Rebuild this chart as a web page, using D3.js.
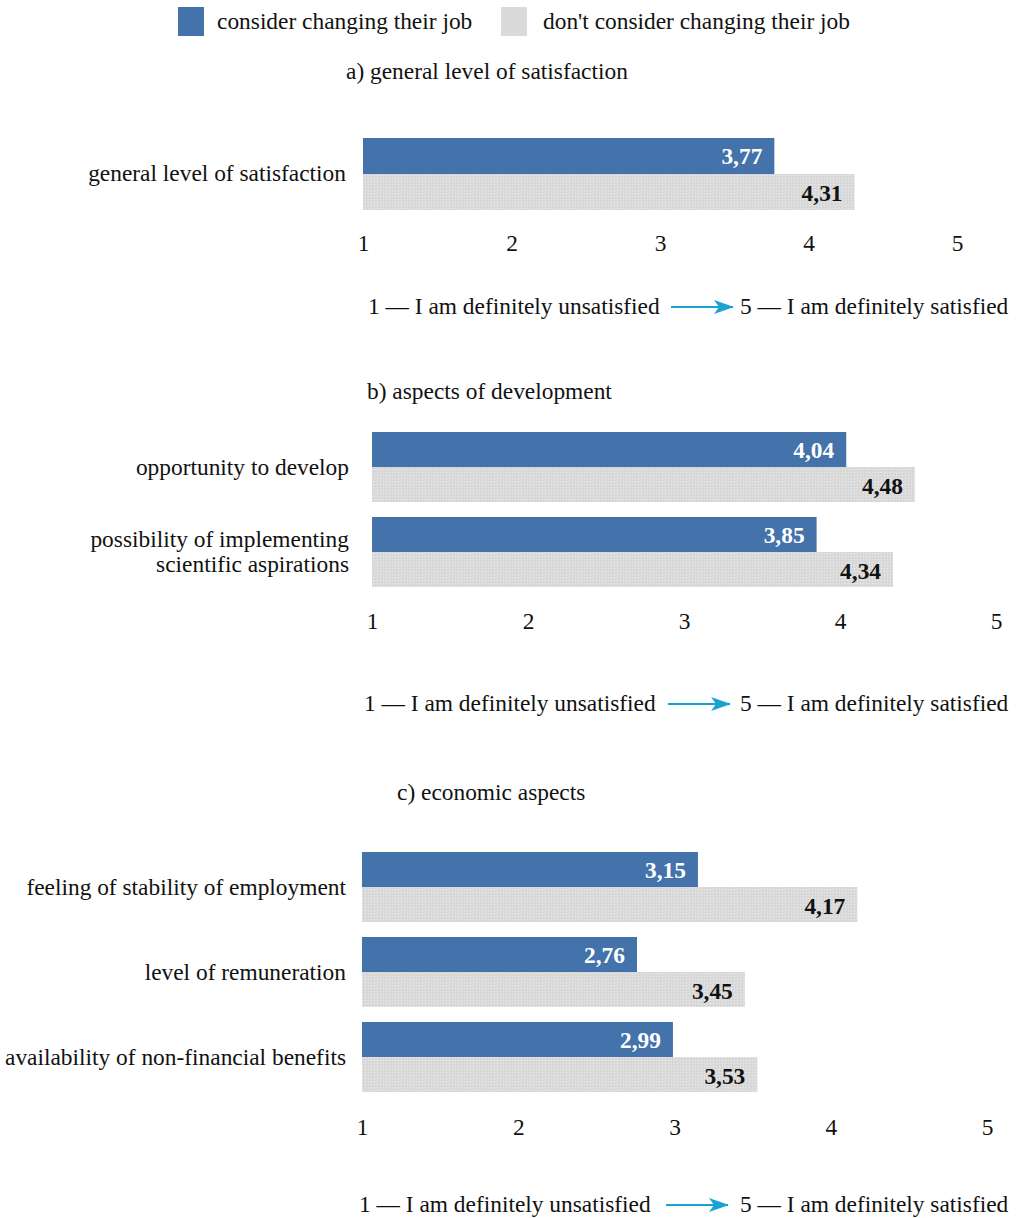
<!DOCTYPE html>
<html lang="en">
<head>
  <meta charset="UTF-8" />
  <title>Job satisfaction</title>
  <style>
    body { margin: 0; background: #fff; }
    svg { display: block; font-family: "Liberation Serif", "DejaVu Serif", serif; }
  </style>
</head>
<body>
  <svg width="1020" height="1218"></svg>

  <script src="https://d3js.org/d3.v7.min.js"></script>

  <script>
    // Legend / series names
    const seriesNames = ['consider changing their job', "don't consider changing their job"];

    // Panel titles
    const titles = ['a) general level of satisfaction', 'b) aspects of development', 'c) economic aspects'];

    // a) general level of satisfaction
    const catsA = ['general level of satisfaction'];
    const changeA = [3.77];
    const stayA = [4.31];

    // b) aspects of development
    const catsB = ['opportunity to develop', 'possibility of implementing\nscientific aspirations'];
    const changeB = [4.04, 3.85];
    const stayB = [4.48, 4.34];

    // c) economic aspects
    const catsC = ['feeling of stability of employment', 'level of remuneration', 'availability of non-financial benefits'];
    const changeC = [3.15, 2.76, 2.99];
    const stayC = [4.17, 3.45, 3.53];

    const ticks = [1, 2, 3, 4, 5];
    const noteLeft = '1 \u2014 I am definitely unsatisfied';
    const noteRight = '5 \u2014 I am definitely satisfied';

    const blue = '#4373aa';
    const grey = '#dadada';
    const arrowColor = '#1aa3d2';
    const fs = 23.4;
    const fmt = v => d3.format('.2f')(v).replace('.', ',');

    const svg = d3.select('svg');
    const defs = svg.append('defs');

    // stippled grey fill like the original print
    const pat = defs.append('pattern')
      .attr('id', 'stipple')
      .attr('patternUnits', 'userSpaceOnUse')
      .attr('width', 3).attr('height', 3);
    pat.append('rect').attr('width', 3).attr('height', 3).attr('fill', '#dcdcdc');
    pat.append('rect').attr('x', 0).attr('y', 0).attr('width', 1).attr('height', 1).attr('fill', '#cfcfcf');
    pat.append('rect').attr('x', 2).attr('y', 1).attr('width', 1).attr('height', 1).attr('fill', '#e6e6e6');
    pat.append('rect').attr('x', 1).attr('y', 2).attr('width', 1).attr('height', 1).attr('fill', '#d3d3d3');

    // notched arrow head
    defs.append('marker')
      .attr('id', 'arrow')
      .attr('viewBox', '0 0 20 14')
      .attr('refX', 19).attr('refY', 7)
      .attr('markerWidth', 20).attr('markerHeight', 14)
      .attr('markerUnits', 'userSpaceOnUse')
      .attr('orient', 'auto')
      .append('path')
      .attr('d', 'M0,0 L20,7 L0,14 L5,7 z')
      .attr('fill', arrowColor);

    // Legend
    const legend = svg.append('g');
    const legendX = [178, 501];
    seriesNames.forEach((name, i) => {
      legend.append('rect')
        .attr('x', legendX[i]).attr('y', 7)
        .attr('width', 26).attr('height', 29)
        .attr('fill', i === 0 ? blue : grey);
      legend.append('text')
        .attr('x', legendX[i] + 39 + i * 3).attr('y', 29)
        .attr('font-size', fs)
        .attr('fill', '#111')
        .text(name);
    });

    function panel(opts) {
      const { cats, change, stay, title, titleX, titleY, x0, x1, top, gap, barH, labelX, tickY, noteY, noteX, arrowX } = opts;
      const g = svg.append('g');
      const x = d3.scaleLinear().domain([1, 5]).range([x0, x1]);

      g.append('text')
        .attr('x', titleX).attr('y', titleY)
        .attr('font-size', fs).attr('fill', '#111')
        .text(title);

      cats.forEach((cat, i) => {
        const y = top + i * gap;
        g.append('rect')
          .attr('x', x(1)).attr('y', y)
          .attr('width', x(change[i]) - x(1)).attr('height', barH + 1)
          .attr('fill', blue);
        g.append('rect')
          .attr('x', x(1)).attr('y', y + barH)
          .attr('width', x(stay[i]) - x(1)).attr('height', barH)
          .attr('fill', 'url(#stipple)');

        g.append('text')
          .attr('x', x(change[i]) - 12).attr('y', y + barH / 2 + 8)
          .attr('text-anchor', 'end')
          .attr('font-size', fs).attr('font-weight', 'bold')
          .attr('fill', '#fff')
          .text(fmt(change[i]));
        g.append('text')
          .attr('x', x(stay[i]) - 12).attr('y', y + barH * 1.5 + 9)
          .attr('text-anchor', 'end')
          .attr('font-size', fs).attr('font-weight', 'bold')
          .attr('fill', '#111')
          .text(fmt(stay[i]));

        const lines = cat.split('\n');
        const t = g.append('text')
          .attr('text-anchor', 'end')
          .attr('font-size', fs).attr('fill', '#111');
        lines.forEach((ln, j) => {
          t.append('tspan')
            .attr('x', labelX)
            .attr('y', y + 43 - (lines.length - 1) * 13 + j * 25)
            .text(ln);
        });
      });

      const axis = d3.axisBottom(x)
        .tickValues(ticks)
        .tickSize(0)
        .tickPadding(0)
        .tickFormat(d3.format('d'));
      const ax = g.append('g')
        .attr('transform', `translate(0,${tickY})`)
        .call(axis);
      ax.select('.domain').remove();
      ax.selectAll('text')
        .attr('font-family', '"Liberation Serif", serif')
        .attr('font-size', fs)
        .attr('fill', '#111')
        .attr('dy', 0);

      g.append('text')
        .attr('x', noteX).attr('y', noteY)
        .attr('font-size', fs).attr('fill', '#111')
        .text(noteLeft);
      g.append('line')
        .attr('x1', arrowX).attr('x2', arrowX + 62)
        .attr('y1', noteY - 7).attr('y2', noteY - 7)
        .attr('stroke', arrowColor).attr('stroke-width', 2)
        .attr('marker-end', 'url(#arrow)');
      g.append('text')
        .attr('x', 740).attr('y', noteY)
        .attr('font-size', fs).attr('fill', '#111')
        .text(noteRight);
    }

    panel({ cats: catsA, change: changeA, stay: stayA, title: titles[0],
      titleX: 346, titleY: 79, x0: 363, x1: 957, top: 138, gap: 85, barH: 36,
      labelX: 346, tickY: 251, noteX: 368, noteY: 314, arrowX: 671 });

    panel({ cats: catsB, change: changeB, stay: stayB, title: titles[1],
      titleX: 367, titleY: 399, x0: 372, x1: 996, top: 432, gap: 85, barH: 35,
      labelX: 349, tickY: 629, noteX: 364, noteY: 711, arrowX: 668 });

    panel({ cats: catsC, change: changeC, stay: stayC, title: titles[2],
      titleX: 397, titleY: 800, x0: 362, x1: 987, top: 852, gap: 85, barH: 35,
      labelX: 346, tickY: 1135, noteX: 359, noteY: 1212, arrowX: 666 });
  </script>
</body>
</html>
